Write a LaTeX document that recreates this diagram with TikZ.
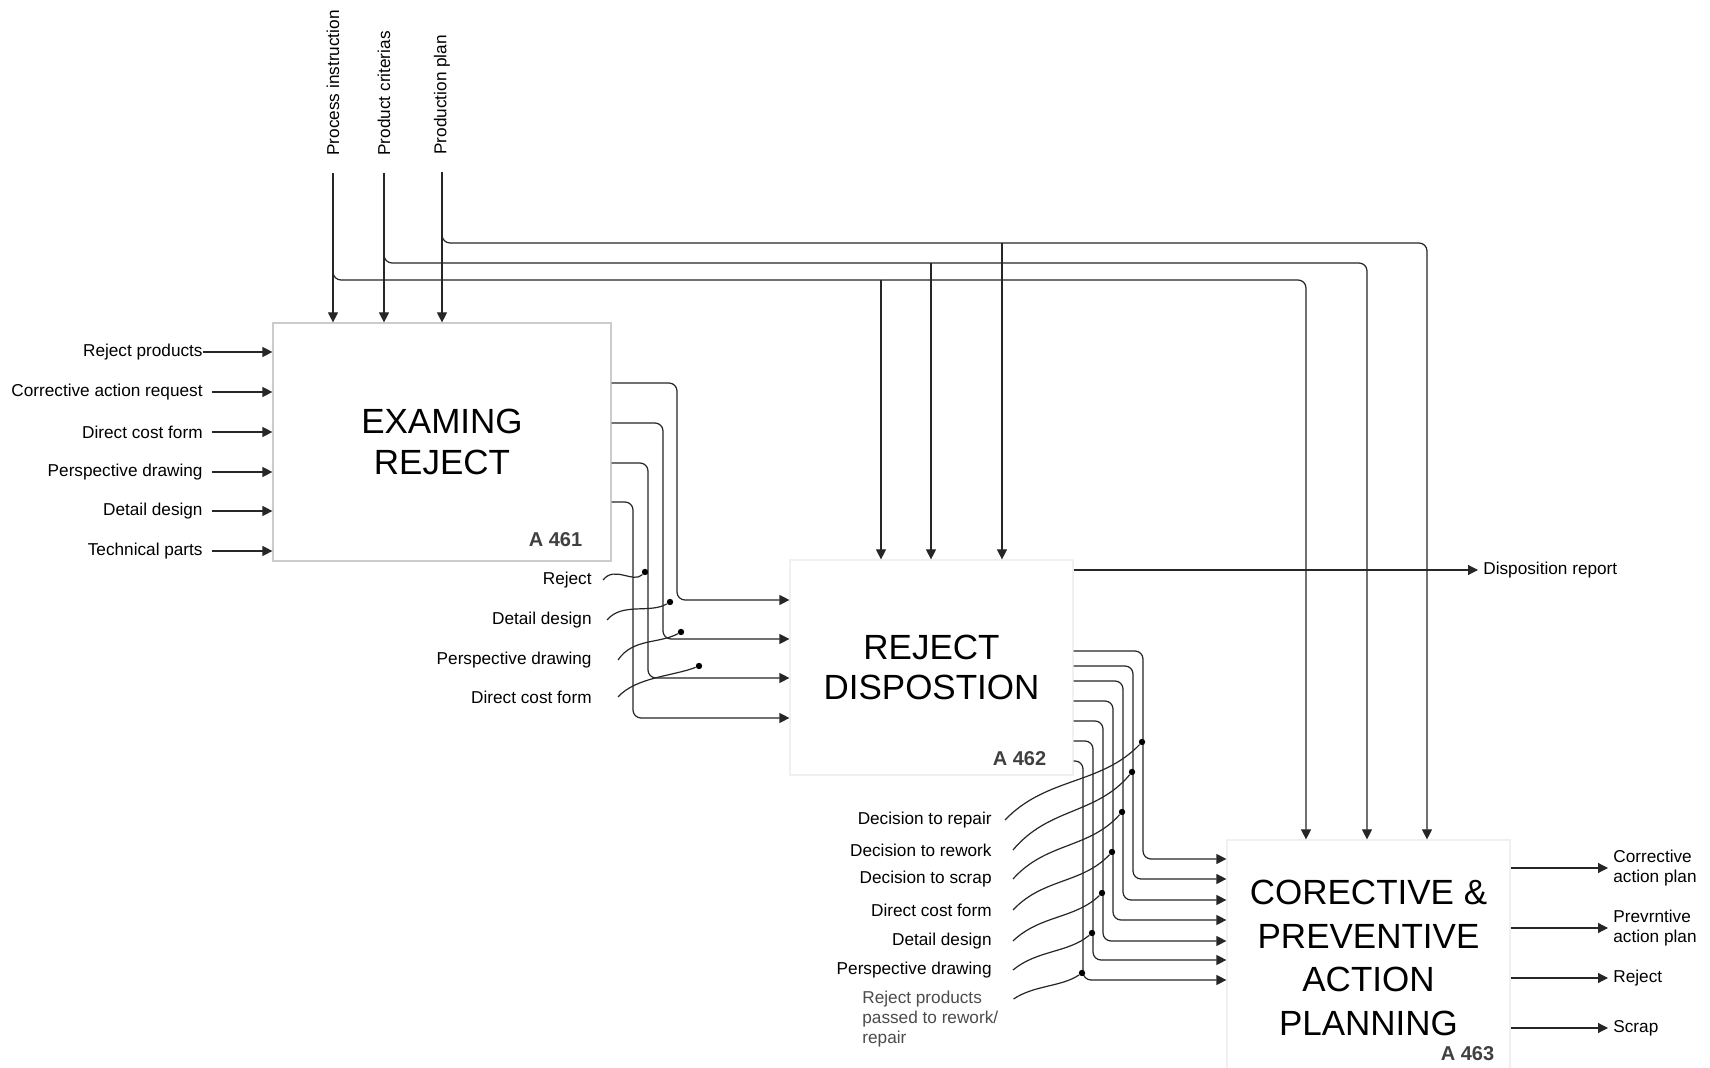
\documentclass[tikz,border=0pt]{standalone}
\usepackage{fontspec}
\setmainfont{Liberation Sans}
\usetikzlibrary{arrows.meta}
\usetikzlibrary{positioning}

\tikzset{
  flow/.style={draw=black!85, line width=0.6pt, -{Triangle[length=5pt,width=5pt]}},
  wire/.style={draw=black!85, line width=0.6pt},
  elbow/.style={rounded corners=4pt},
  lbl/.style={font=\fontsize{8.6}{10}\selectfont, inner sep=2.5pt},
  func/.style={rectangle, draw=gray!12, line width=0.6pt, align=center,
    font=\fontsize{17.5}{20.3}\selectfont},
  boxid/.style={font=\fontsize{10}{12}\selectfont\bfseries, text=black!75, inner sep=0pt},
  dot/.style={circle, fill=black, inner sep=0pt, minimum size=3.2pt},
}

\begin{document}
\begin{tikzpicture}[x=0.5pt, y=-0.5pt]

  % Page
  \path[fill=white, use as bounding box] (0,0) rectangle (1710,1068);

  % Define nodes
  \node[func, draw=gray!40, minimum width=169pt, minimum height=119pt] (exam) at (442,442) {EXAMING\\REJECT};
  \node[func, minimum width=141.5pt, minimum height=107.5pt] (disp) at (931.5,667.5) {REJECT\\DISPOSTION};
  \node[func, minimum width=141.5pt, minimum height=118pt, font=\fontsize{17.5}{21.7}\selectfont] (plan) at (1368.5,958) {CORECTIVE \&\\PREVENTIVE\\ACTION\\PLANNING};

  \node[boxid, above left=7pt and 14.5pt of exam.south east] (examid) {A 461};
  \node[boxid, above left=4.5pt and 13.5pt of disp.south east] (dispid) {A 462};
  \node[boxid, above left=7.5pt and 8pt of plan.south east] (planid) {A 463};

  % Controls
  \node[lbl, rotate=90, anchor=west] (instr) at (333,161) {Process instruction};
  \node[lbl, rotate=90, anchor=west] (crit) at (384,161) {Product criterias};
  \node[lbl, rotate=90, anchor=west] (pplan) at (442,160) {Production plan};

  \draw[flow] ([yshift=-6pt]instr.west) -- (instr.west |- exam.north);
  \draw[flow] ([yshift=-6pt]crit.west) -- (crit.west |- exam.north);
  \draw[flow] ([yshift=-6pt]pplan.west) -- (pplan.west |- exam.north);

  \draw[flow, elbow] (instr.west |- 0,272) |- (1306,280) -- (1306,0 |- plan.north);
  \draw[flow, elbow] (crit.west |- 0,255) |- (1367,263) -- (1367,0 |- plan.north);
  \draw[flow, elbow] (pplan.west |- 0,235) |- (1427,243) -- (1427,0 |- plan.north);
  \draw[flow] (881,280) -- (881,0 |- disp.north);
  \draw[flow] (931,263) -- (931,0 |- disp.north);
  \draw[flow] (1002,243) -- (1002,0 |- disp.north);

  % Inputs of A 461
  \foreach \nm/\yy/\sh/\txt in {inrej/352/-2.5/Reject products,
      inreq/392/2/Corrective action request, incost/432/2/Direct cost form,
      indraw/472/2/Perspective drawing, indet/511/2/Detail design,
      intech/551/2/Technical parts}
  {
    \node[lbl, anchor=east] (\nm) at (208,\yy) {\txt};
    \draw[flow] ([xshift=\sh pt]\nm.east) -- (\nm.east -| exam.west);
  }

  % Outputs of A 461
  \foreach \ya/\xb/\yb in {383/677/600, 423/663/639, 463/648/678, 502/633/718}
    \draw[flow, elbow] (exam.east |- 0,\ya) -| (\xb,\yb) -- (disp.west |- 0,\yb);

  \node[lbl, anchor=east] (orej) at (597,580) {Reject};
  \node[lbl, anchor=east] (odet) at (597,620) {Detail design};
  \node[lbl, anchor=east] (odraw) at (597,660) {Perspective drawing};
  \node[lbl, anchor=east] (ocost) at (597,697) {Direct cost form};
  \node[dot] (k1) at (645,572) {};
  \node[dot] (k2) at (670,602) {};
  \node[dot] (k3) at (681,632) {};
  \node[dot] (k4) at (699,666) {};
  \draw[wire] ([xshift=3pt]orej.east) .. controls +(12,-15) and +(-12,12) .. (k1);
  \draw[wire] ([xshift=5pt]odet.east) .. controls +(15,-18) and +(-20,12) .. (k2);
  \draw[wire] ([xshift=10.5pt]odraw.east) .. controls +(15,-22) and +(-22,12) .. (k3);
  \draw[wire] ([xshift=10.5pt]ocost.east) .. controls +(18,-20) and +(-25,10) .. (k4);

  % Outputs of A 462
  \node[lbl, anchor=west] (report) at (1478,570) {Disposition report};
  \draw[flow] (disp.east |- report.west) -- (report.west);

  \foreach \ya/\xb/\yb in {651/1143/859, 666/1133/879, 681/1123/900, 701/1113/920,
      721/1103/941, 741/1093/960, 761/1083/980}
    \draw[flow, elbow] (disp.east |- 0,\ya) -| (\xb,\yb) -- (plan.west |- 0,\yb);

  \foreach \nm/\yy/\txt in {drep/820/Decision to repair, drew/850/Decision to rework,
      dscr/879/Decision to scrap, dcost/910/Direct cost form, ddet/941/Detail design,
      ddraw/970/Perspective drawing}
    \node[lbl, anchor=east] (\nm) at (997,\yy) {\txt};
  \node[lbl, anchor=west, align=left, text=black!70] (dpass) at (857,1019) {Reject products\\passed to rework/\\repair};

  \foreach \nm/\xx/\yy in {m1/1142/742, m2/1132/772, m3/1122/812, m4/1112/852,
      m5/1102/893, m6/1092/933, m7/1082/973}
    \node[dot] (\nm) at (\xx,\yy) {};

  \foreach \lb/\sh/\mk/\cx/\cy in {drep/4/m1/41/43, drew/8/m2/36/43, dscr/8/m3/33/37,
      dcost/8/m4/30/32, ddet/8/m5/27/26, ddraw/8/m6/24/20}
    \draw[wire] ([xshift=\sh pt]\lb.east) .. controls +(\cx,-\cy) and +(-\cx,\cy) .. (\mk);
  \draw[wire] ([xshift=5pt,yshift=10pt]dpass.east) .. controls +(21,-14) and +(-21,14) .. (m7);

  % Outputs of A 463
  \node[lbl, anchor=west, align=left] (corr) at (1608,868) {Corrective\\action plan};
  \node[lbl, anchor=west, align=left] (prev) at (1608,928) {Prevrntive\\action plan};
  \node[lbl, anchor=west] (prej) at (1608,978) {Reject};
  \node[lbl, anchor=west] (pscrap) at (1608,1028) {Scrap};
  \foreach \nm in {corr, prev, prej, pscrap}
    \draw[flow] (plan.east |- \nm.west) -- (\nm.west);

\end{tikzpicture}
\end{document}
